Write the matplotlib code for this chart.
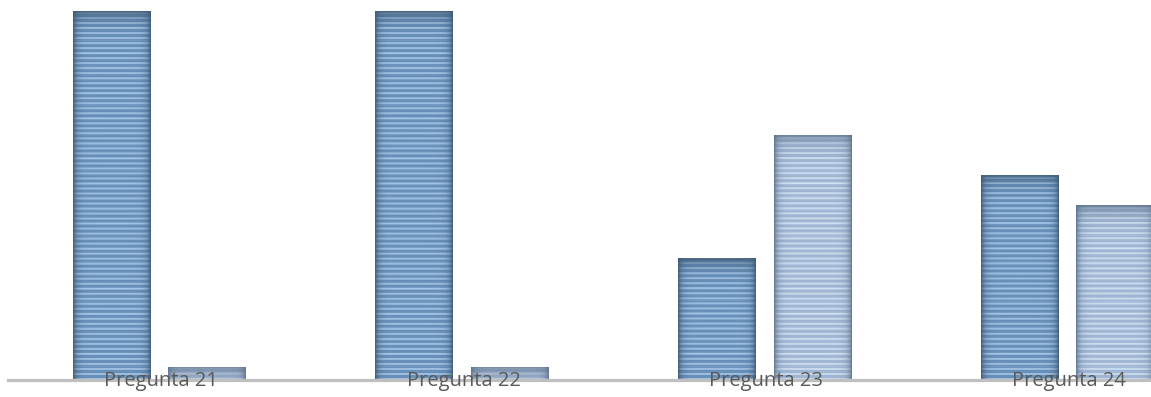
import numpy as np
import matplotlib
matplotlib.use("Agg")
import matplotlib.pyplot as plt
from matplotlib.colors import to_rgb

# Data (percent of answers per question)
categories = ["Pregunta 21", "Pregunta 22", "Pregunta 23", "Pregunta 24"]
serie_a = [97, 97, 32, 54]
serie_b = [3.5, 3.5, 64.5, 46]

# colours: (base, stripe, edge) for each series
estilo_a = ("#6890b9", "#a9c9ea", "#3e5873")
estilo_b = ("#a0b6d3", "#d3e3f5", "#5c718a")

W, H, DPI = 1151, 397, 100
BASE = 380  # pixel row of the axis line


def textured_bar(ax, patch, estilo, px_per_x, px_per_y):
    """Fill a bar patch with horizontal stripes and darker side edges."""
    x0, y0 = patch.get_x(), patch.get_y()
    w, h = patch.get_width(), patch.get_height()
    cols = max(int(w * px_per_x), 2)
    rows = max(int(h * px_per_y), 2)
    base, stripe, edge = (np.array(to_rgb(c)) for c in estilo)
    # stripes along rows
    r = np.arange(rows)
    s = ((r % 5) < 2).astype(float) * 0.8 + ((r % 13) == 0) * 0.2
    s = np.clip(s, 0, 1)[:, None, None]
    img = base * (1 - s) + stripe * s
    img = np.repeat(img, cols, axis=1)
    # darker at left/right edges and at the top
    c = np.arange(cols)
    d = np.minimum(c, cols - 1 - c)
    e = np.exp(-d / 3.5)[None, :, None] * 0.85
    img = img * (1 - e) + edge * e
    t = np.exp(-(rows - 1 - r) / 7.0)[:, None, None] * 0.8
    img = img * (1 - t) + edge * t
    im = ax.imshow(img, extent=[x0, x0 + w, y0, y0 + h], origin="lower",
                   aspect="auto", interpolation="bilinear", zorder=2)
    im.set_clip_path(patch)


fig = plt.figure(figsize=(W / DPI, H / DPI), dpi=DPI)
left = 8 / W
ax = fig.add_axes([left, (H - BASE) / H, 1 - left, BASE / H])

x = np.arange(len(categories))
ancho = 0.257
sep = 0.059
off = (ancho + sep) / 2
bars_a = ax.bar(x - off, serie_a, ancho, facecolor="none", edgecolor="none")
bars_b = ax.bar(x + off, serie_b, ancho, facecolor="none", edgecolor="none")

xmax = 3.276
ax.set_xlim(-0.5, xmax)
ax.set_ylim(0, 100)

px_per_x = (W - 8) / (xmax + 0.5)
px_per_y = BASE / 100
for p in bars_a:
    textured_bar(ax, p, estilo_a, px_per_x, px_per_y)
for p in bars_b:
    textured_bar(ax, p, estilo_b, px_per_x, px_per_y)

for s in ["top", "right", "left"]:
    ax.spines[s].set_visible(False)
ax.spines["bottom"].set_color("#bfbfbf")
ax.spines["bottom"].set_linewidth(2.3)
ax.spines["bottom"].set_zorder(3)
ax.set_yticks([])
ax.set_xticks([])

for i, lab in enumerate(categories):
    ax.text(i + 0.005, -0.2, lab, ha="center", va="center", fontsize=14.5,
            family="Open Sans", color="#595959", zorder=4, clip_on=False)

fig.savefig("out.png", dpi=DPI, facecolor="white")
